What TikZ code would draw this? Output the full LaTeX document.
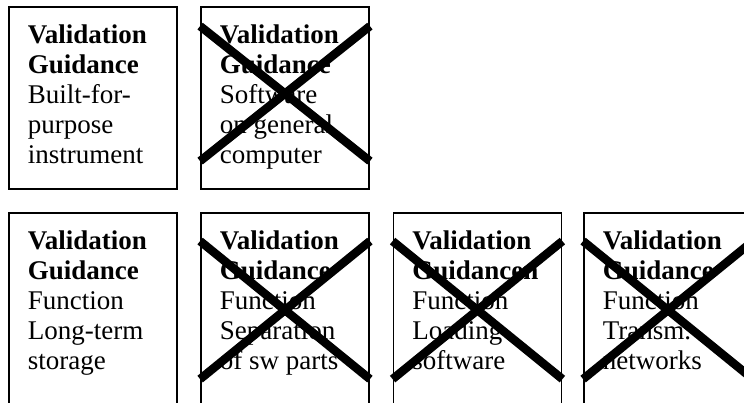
\documentclass[tikz,border=0pt]{standalone}
\usepackage{fontspec}
\setmainfont{Liberation Serif}
\usetikzlibrary{positioning}

\begin{document}
\begin{tikzpicture}[x=1pt, y=-1pt,
    card/.style={rectangle, draw=black, line width=1.8pt,
                 minimum width=168pt, minimum height=182pt, inner sep=0pt},
    opencard/.style={card, minimum height=200pt},
    cardtext/.style={align=left, inner sep=0pt,
                     font=\fontsize{27}{30}\selectfont},
    cross/.style={line width=8.5pt, black}
  ]
    \useasboundingbox (0,0) rectangle (744,403);
    \clip (0,0) rectangle (744,403);

    % top row
    \node[card] (b1) at (93,98) {};
    \node[card] (b2) at (285,98) {};

    \node[cardtext, below right=18pt and 19.5pt of b1.north west] (t1)
      {\textbf{Validation}\\\textbf{Guidance}\\Built-for-\\purpose\\instrument};
    \node[cardtext, below right=18pt and 19.5pt of b2.north west] (t2)
      {\textbf{Validation}\\\textbf{Guidance}\\Software\\on general\\computer};

    % bottom row, cut off at the page edge
    \node[opencard] (c1) at (93,313) {};
    \node[opencard] (c2) at (285,313) {};
    \node[opencard] (c3) at (477.5,313) {};
    \node[opencard] (c4) at (668,313) {};

    \node[cardtext, below right=18pt and 19.5pt of c1.north west] (u1)
      {\textbf{Validation}\\\textbf{Guidance}\\Function\\Long-term\\storage};
    \node[cardtext, below right=18pt and 19.5pt of c2.north west] (u2)
      {\textbf{Validation}\\\textbf{Guidance}\\Function\\Separation\\of sw parts};
    \node[cardtext, below right=18pt and 19.5pt of c3.north west] (u3)
      {\textbf{Validation}\\\textbf{Guidancen}\\Function\\Loading\\software};
    \node[cardtext, below right=18pt and 19.5pt of c4.north west] (u4)
      {\textbf{Validation}\\\textbf{Guidance}\\Function\\Transm.\\networks};

    % crossed out
    \draw[cross] ([yshift=-20pt]b2.north west) -- ([yshift=-155pt]b2.north east);
    \draw[cross] ([yshift=-155pt]b2.north west) -- ([yshift=-20pt]b2.north east);
    \foreach \c in {c2,c3,c4} {
      \draw[cross] ([yshift=-29pt]\c.north west) -- ([yshift=-167pt]\c.north east);
      \draw[cross] ([yshift=-167pt]\c.north west) -- ([yshift=-29pt]\c.north east);
    }
  \end{tikzpicture}
\end{document}
